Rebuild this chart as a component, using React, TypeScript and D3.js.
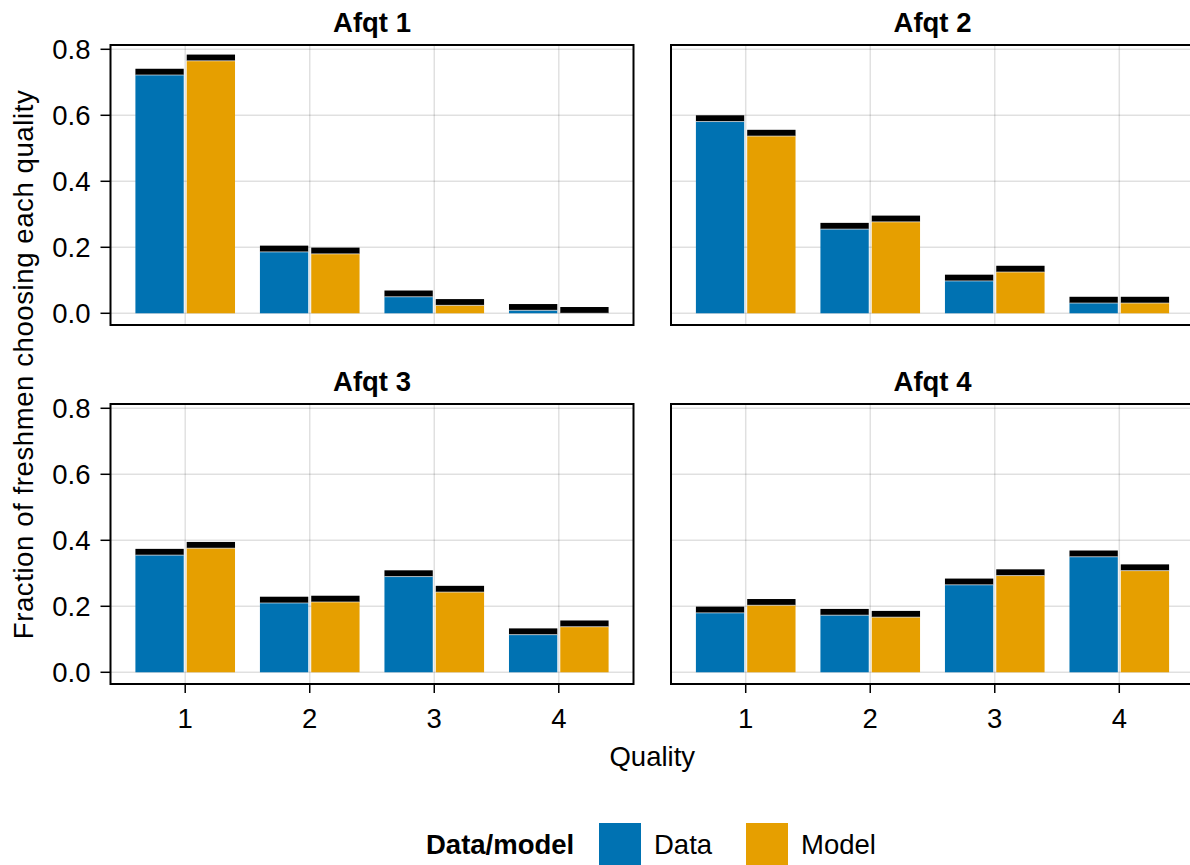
import React from "react";
import { scaleLinear } from "d3";

// values
const qualities = [1, 2, 3, 4];
const afqtGroups = ["Afqt 1", "Afqt 2", "Afqt 3", "Afqt 4"];
const dataShares = [
  [0.722, 0.186, 0.05, 0.009],
  [0.581, 0.255, 0.098, 0.031],
  [0.355, 0.21, 0.29, 0.114],
  [0.18, 0.173, 0.265, 0.35],
];
const modelShares = [
  [0.765, 0.18, 0.024, 0.0],
  [0.537, 0.277, 0.125, 0.031],
  [0.376, 0.213, 0.243, 0.138],
  [0.203, 0.167, 0.293, 0.308],
];
const yTicks = [0, 0.2, 0.4, 0.6, 0.8];
const seriesNames = ["Data", "Model"];
const seriesColors = ["#0072B2", "#E69F00"];

const width = 1190;
const height = 865;
const panelW = 523;
const panelH = 280;
const colX = [110.5, 671];
const rowY = [45, 404];
const capThickness = 0.019;
const halfGroup = 0.4;
const halfGap = 0.012;
const font = "'Liberation Sans', Arial, sans-serif";
const fs = 27.5;

const x = scaleLinear().domain([0.4, 4.6]).range([0, panelW]);
const y = scaleLinear().domain([-0.0355, 0.813]).range([panelH, 0]);

function Panel({ idx }: { idx: number }) {
  const col = idx % 2;
  const row = Math.floor(idx / 2);
  const series = [dataShares[idx], modelShares[idx]];
  return (
    <g transform={`translate(${colX[col]},${rowY[row]})`}>
      <text
        x={panelW / 2}
        y={-13}
        textAnchor="middle"
        fontWeight="bold"
        fontSize={fs}
      >
        {afqtGroups[idx]}
      </text>
      {yTicks.map((t) => (
        <line
          key={`gy${t}`}
          x1={0}
          x2={panelW}
          y1={y(t)}
          y2={y(t)}
          stroke="#000"
          strokeOpacity={0.12}
          strokeWidth={1.5}
        />
      ))}
      {qualities.map((q) => (
        <line
          key={`gx${q}`}
          x1={x(q)}
          x2={x(q)}
          y1={0}
          y2={panelH}
          stroke="#000"
          strokeOpacity={0.12}
          strokeWidth={1.5}
        />
      ))}
      {series.map((vals, s) =>
        vals.map((v, i) => {
          const q = qualities[i];
          const x0 = s === 0 ? x(q - halfGroup) : x(q + halfGap);
          const x1 = s === 0 ? x(q - halfGap) : x(q + halfGroup);
          return (
            <g key={`b${s}-${i}`}>
              <rect
                x={x0}
                y={y(v)}
                width={x1 - x0}
                height={y(0) - y(v)}
                fill={seriesColors[s]}
              />
              <rect
                x={x0}
                y={y(v + capThickness)}
                width={x1 - x0}
                height={y(v) - y(v + capThickness)}
                fill="#000"
              />
              <line
                x1={x0}
                x2={x1}
                y1={y(v)}
                y2={y(v)}
                stroke="#fff"
                strokeOpacity={0.6}
                strokeWidth={1}
              />
            </g>
          );
        })
      )}
      <rect
        x={0}
        y={0}
        width={panelW}
        height={panelH}
        fill="none"
        stroke="#000"
        strokeWidth={2}
      />
      {col === 0 &&
        yTicks.map((t) => (
          <g key={`ty${t}`}>
            <line x1={-10} x2={0} y1={y(t)} y2={y(t)} stroke="#000" strokeWidth={1.5} />
            <text
              x={-20}
              y={y(t)}
              dy="0.36em"
              textAnchor="end"
              fontSize={fs}
            >
              {t.toFixed(1)}
            </text>
          </g>
        ))}
      {row === 1 &&
        qualities.map((q) => (
          <g key={`tx${q}`}>
            <line
              x1={x(q)}
              x2={x(q)}
              y1={panelH}
              y2={panelH + 9}
              stroke="#000"
              strokeWidth={1.5}
            />
            <text x={x(q)} y={panelH + 44} textAnchor="middle" fontSize={fs}>
              {q}
            </text>
          </g>
        ))}
    </g>
  );
}

export default function App() {
  return (
    <svg
      width={width}
      height={height}
      style={{ position: "absolute", left: 0, top: 0, background: "#fff" }}
      fontFamily={font}
    >
      <rect width={width} height={height} fill="#fff" />
      {afqtGroups.map((_, i) => (
        <Panel key={i} idx={i} />
      ))}
      <text
        transform={`translate(33,${(rowY[0] + rowY[1] + panelH) / 2}) rotate(-90)`}
        textAnchor="middle"
        fontSize={fs}
        letterSpacing={0.6}
      >
        Fraction of freshmen choosing each quality
      </text>
      <text
        x={(colX[0] + colX[1] + panelW) / 2}
        y={766}
        textAnchor="middle"
        fontSize={fs}
      >
        Quality
      </text>
      <g>
        <text x={426} y={854} fontWeight="bold" fontSize={fs}>
          Data/model
        </text>
        {seriesNames.map((name, i) => (
          <g key={name} transform={`translate(${599 + i * 147},823)`}>
            <rect width={42} height={42} fill={seriesColors[i]} />
            <text x={55} y={31} fontSize={fs}>
              {name}
            </text>
          </g>
        ))}
      </g>
    </svg>
  );
}
